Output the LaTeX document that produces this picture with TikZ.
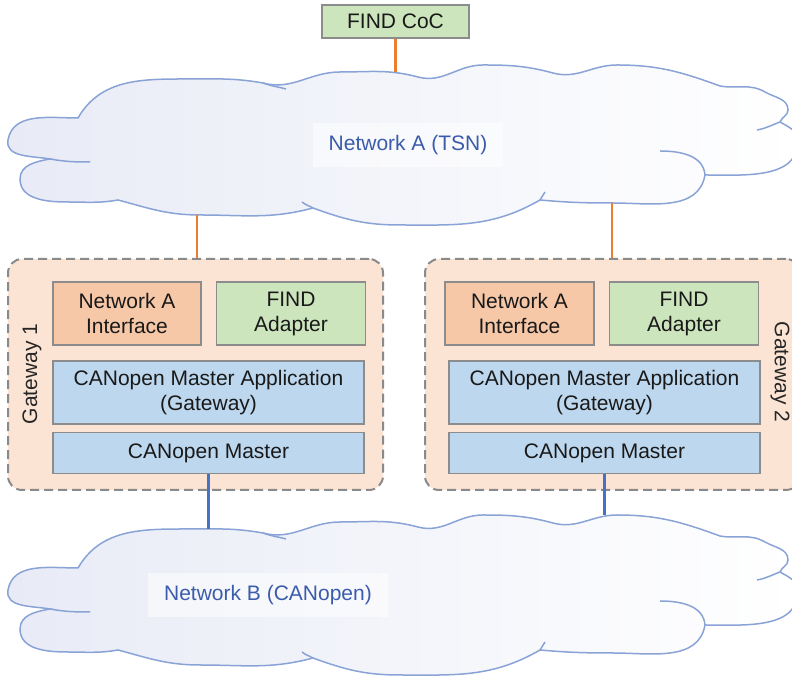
\documentclass[tikz,border=0pt]{standalone}
\usepackage{fontspec}
\setmainfont{Liberation Sans}
\usepackage{xcolor}
\usetikzlibrary{positioning}
\definecolor{cloudline}{HTML}{8AA3D6}
\definecolor{cloudfill}{HTML}{E8EBF6}
\definecolor{nettext}{HTML}{3B5CAB}
\definecolor{linkorange}{HTML}{ED7D31}
\definecolor{linkblue}{HTML}{4472C4}
\definecolor{gwfill}{HTML}{FBE4D4}
\definecolor{gwline}{HTML}{8A8A8A}
\definecolor{ifacefill}{HTML}{F6C8A8}
\definecolor{findfill}{HTML}{CDE5BD}
\definecolor{canfill}{HTML}{BDD7EE}
\definecolor{boxline}{HTML}{8C8C8C}
\newcommand{\diagfont}{\fontsize{21}{25}\selectfont}
\tikzset{
  module/.style={
    rectangle, draw=boxline, line width=1.5pt, fill=#1,
    inner sep=0pt, align=center, font=\diagfont, text=black!90
  },
  gateway/.style={
    rectangle, rounded corners=14pt, draw=gwline, line width=2pt,
    dash pattern=on 9pt off 5pt, fill=gwfill,
    minimum width=375pt, minimum height=231pt
  },
  gwlabel/.style={font=\diagfont, text=black!85, inner sep=0pt},
  cloudshape/.style={draw=cloudline, line width=1.5pt, left color=cloudfill, right color=white},
  cloudcurl/.style={draw=cloudline, line width=1.5pt},
  netlabel/.style={font=\diagfont, text=nettext, fill=white, fill opacity=0.5, text opacity=1,
    inner xsep=16pt, inner ysep=12pt},
  orangelink/.style={draw=linkorange, line width=2.8pt},
  bluelink/.style={draw=linkblue, line width=2.8pt}
}
% cloud outline, #1 = vertical shift
\newcommand{\netcloud}[1]{%
  \begin{scope}[shift={(0,#1)}]
    \path[cloudshape] (78,558)
      to[out=180,in=80] (8,536)
      to[out=260,in=170] (50,517)
      to[out=190,in=90] (20,497)
      to[out=270,in=180] (67,474)
      to[out=0,in=190] (118,476)
      to[out=-15,in=180] (200,461)
      to[out=0,in=195] (313,468)
      to[out=-20,in=180] (400,451)
      to[out=0,in=210] (540,476)
      to[out=-5,in=180] (613,473)
      to[out=0,in=260] (705,501)
      to[out=0,in=270] (798,535)
      to[out=90,in=-30] (780,554)
      to[out=70,in=270] (788,566)
      to[out=90,in=-30] (765,584)
      to[out=150,in=-10] (720,590)
      to[out=160,in=0] (617,611)
      to[out=180,in=-15] (553,603)
      to[out=165,in=0] (483,611)
      to[out=180,in=-15] (418,599)
      to[out=165,in=0] (340,604)
      to[out=180,in=-15] (263,593)
      to[out=170,in=0] (187,597)
      to[out=180,in=60] (78,558) -- cycle;
    \draw[cloudcurl] (263,593) to[out=-20,in=165] (286,587);
    \draw[cloudcurl] (50,517) to[out=-10,in=180] (90,514);
    \draw[cloudcurl] (313,468) to[out=150,in=-40] (302,474);
    \draw[cloudcurl] (540,476) to[out=80,in=-100] (545,484);
    \draw[cloudcurl] (705,501) to[out=95,in=0] (660,525);
    \draw[cloudcurl] (780,554) to[out=-160,in=10] (757,546);
  \end{scope}}

\begin{document}
\begin{tikzpicture}[x=1pt, y=1pt]
  \clip (0,0) rectangle (792,676);

  % networks
  \netcloud{0}
  \netcloud{-450}
  \node[netlabel] (netA) at (408,531) {Network A (TSN)};
  \node[netlabel] (netB) at (268,81) {Network B (CANopen)};
  \coordinate (netAtop) at (395,604);
  \coordinate (netAbotL) at (197,461);
  \coordinate (netAbotR) at (612,473);
  \coordinate (netBtopL) at (207,147);
  \coordinate (netBtopR) at (604,161);

  \node[module=findfill, minimum width=147pt, minimum height=33pt] (coc) at (395.5,654.5) {FIND CoC};

  % gateway 1
  \node[gateway] (gw1) at (195.5,301.5) {};
  \node[gwlabel, rotate=90] (gw1label) at (32,302) {Gateway 1};
  \node[module=ifacefill, minimum width=148pt, minimum height=63pt] (iface1) at (127,362.5) {Network A\\Interface};
  \node[module=findfill, minimum width=149pt, minimum height=63pt, right=14pt of iface1] (adapt1) {FIND\\Adapter};
  \node[module=canfill, minimum width=311pt, minimum height=63pt] (app1) at (208.5,283.5) {CANopen Master Application\\(Gateway)};
  \node[module=canfill, minimum width=311pt, minimum height=41pt, below=7pt of app1] (master1) {CANopen Master};

  % gateway 2
  \node[gateway] (gw2) at (612.5,301.5) {};
  \node[gwlabel, rotate=-90] (gw2label) at (780,304) {Gateway 2};
  \node[module=ifacefill, minimum width=149pt, minimum height=63pt] (iface2) at (519.5,362.5) {Network A\\Interface};
  \node[module=findfill, minimum width=149pt, minimum height=63pt, right=14pt of iface2] (adapt2) {FIND\\Adapter};
  \node[module=canfill, minimum width=311pt, minimum height=63pt] (app2) at (604.5,283.5) {CANopen Master Application\\(Gateway)};
  \node[module=canfill, minimum width=311pt, minimum height=41pt, below=7pt of app2] (master2) {CANopen Master};

  % links
  \draw[orangelink] (coc.south) -- (coc.south |- netAtop);
  \draw[orangelink] (netAbotL) -- (netAbotL |- gw1.north);
  \draw[orangelink] (netAbotR) -- (netAbotR |- gw2.north);
  \draw[bluelink] (master1.south) -- (master1.south |- netBtopL);
  \draw[bluelink] (master2.south) -- (master2.south |- netBtopR);
\end{tikzpicture}
\end{document}
